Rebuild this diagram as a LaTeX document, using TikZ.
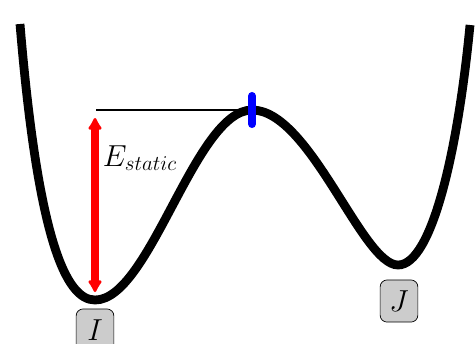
\documentclass[tikz,border=0pt]{standalone}
\usepackage{amsmath,amssymb}
\usepackage{xcolor}
\usepackage{tikz}
\usetikzlibrary{
  arrows.meta,
  positioning,
  calc
}
\definecolor{statebox}{HTML}{CCCCCC}
\tikzset{
  minbox/.style={
    rectangle, rounded corners=4pt, draw=black, fill=statebox,
    minimum width=21.5pt, minimum height=24pt, align=center,
    font=\LARGE, inner sep=2pt
  },
  landscape/.style={
    line width=5pt, color=black
  },
  barrier/.style={
    line width=1.1pt, color=black
  },
  energyarrow/.style={
    {Latex[round,length=8pt,width=9.5pt]}-{Latex[round,length=8pt,width=9.5pt]},
    line width=4pt, color=red
  },
  saddle/.style={
    line width=4.6pt, line cap=round, color=blue
  },
}
\begin{document}
\begin{tikzpicture}[x=0.02cm, y=-0.02cm]
  \useasboundingbox (0,0) rectangle (476,343);
  \clip (0,0) rectangle (476,343);

  %% Energy landscape
  \draw[landscape] (20,24) .. controls (38,240) and (66,300) .. (95,300)
    .. controls (150,300) and (195,110) .. (252,110)
    .. controls (310,110) and (362,265) .. (398,265)
    .. controls (432,265) and (458,150) .. (470,25);

  %% Barrier level
  \coordinate (barleft) at (96,110);
  \coordinate (top) at (252,110);
  \draw[barrier] (barleft) -- (top);
  \draw[saddle] (252,96) -- (252,124);

  %% Static energy
  \coordinate (low) at (95,292);
  \coordinate (high) at (95,118);
  \draw[energyarrow] (low) -- (high);
  \node[font=\LARGE] (estatic) at (140,158) {$E_{static}$};

  %% Minima
  \node[minbox] (I) at (95,330) {$I$};
  \node[minbox] (J) at (399,301) {$J$};
\end{tikzpicture}
\end{document}
